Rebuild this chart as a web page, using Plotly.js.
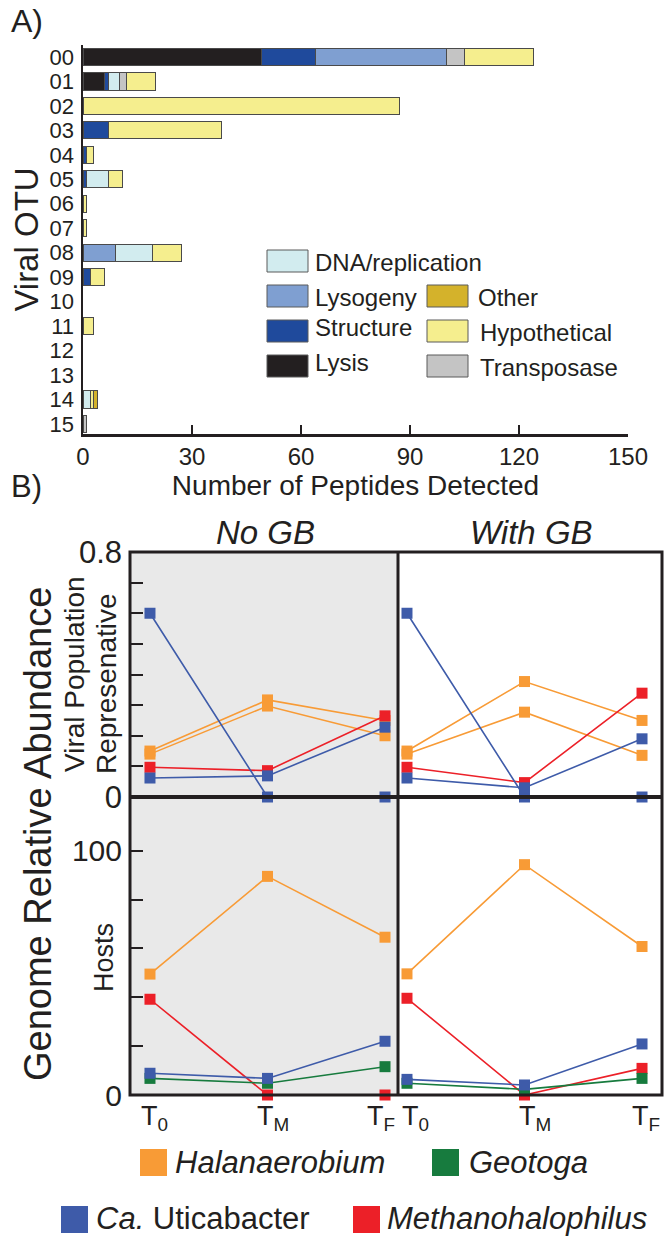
<!DOCTYPE html>
<html><head><meta charset="utf-8">
<script src="https://cdn.plot.ly/plotly-3.0.1.min.js"></script>
<style>html,body{margin:0;padding:0;background:#fff}#chart{width:664px;height:1236px}</style>
</head><body><div id="chart"></div>
<script>
// ---------- Panel A data ----------
const otus = ['00','01','02','03','04','05','06','07','08','09','10','11','12','13','14','15'];
const lysis        = [49,6,0,0,0,0,0,0,0,0,0,0,0,0,0,0];
const structure    = [15,1,0,7,1,1,0,0,0,2,0,0,0,0,0,0];
const lysogeny     = [36,0,0,0,0,0,0,0,9,0,0,0,0,0,0,0];
const dnaReplication = [0,3,0,0,0,6,0,0,10,0,0,0,0,0,2,0];
const transposase  = [5,2,0,0,0,0,0,0,0,0,0,0,0,0,0,1];
const hypothetical = [19,8,87,31,2,4,1,1,8,4,0,3,0,0,1,0];
const other        = [0,0,0,0,0,0,0,0,0,0,0,0,0,0,1,0];
const xTicksA = [0,30,60,90,120,150];

// ---------- Panel B data ----------
const timepoints = [0,1,2];
const timeLabels = ['T<sub>0</sub>','T<sub>M</sub>','T<sub>F</sub>'];
// viral population representatives
const noGB_viral_uti1 = [0.60,0,0];
const noGB_viral_uti2 = [0.062,0.069,0.228];
const noGB_viral_hal1 = [0.15,0.317,0.25];
const noGB_viral_hal2 = [0.14,0.297,0.20];
const noGB_viral_meth = [0.097,0.086,0.265];
const gb_viral_uti1 = [0.60,0,0];
const gb_viral_uti2 = [0.062,0.03,0.19];
const gb_viral_hal1 = [0.15,0.377,0.25];
const gb_viral_hal2 = [0.14,0.277,0.136];
const gb_viral_meth = [0.097,0.047,0.339];
// hosts
const noGB_host_hal  = [49.5,89.5,64.6];
const noGB_host_meth = [39.2,0,0];
const noGB_host_uti  = [8.9,6.8,22];
const noGB_host_geo  = [6.8,4.8,11.6];
const gb_host_hal  = [49.6,94.3,60.8];
const gb_host_meth = [39.6,0,10.9];
const gb_host_uti  = [6.4,4.1,20.9];
const gb_host_geo  = [4.8,2.3,6.8];

const W = 664, H = 1236;
const px = x => x / W, py = y => 1 - y / H;
const FONT = 'Liberation Sans, Arial, Helvetica, sans-serif';
const INK = '#231f20';

const C = {
  lysis:'#231f20', structure:'#1f4a9c', lysogeny:'#7f9fd1', dna:'#d2ecef',
  other:'#d4b22b', hyp:'#f5ee8e', trans:'#c4c4c4',
  hal:'#f89b36', geo:'#177b3e', uti:'#3e5ba9', meth:'#ec2028'
};

const traces = [];
const catSeries = [
  ['Lysis', lysis, C.lysis], ['Structure', structure, C.structure],
  ['Lysogeny', lysogeny, C.lysogeny], ['DNA/replication', dnaReplication, C.dna],
  ['Transposase', transposase, C.trans], ['Hypothetical', hypothetical, C.hyp],
  ['Other', other, C.other]
];
catSeries.forEach(([name, vals, col]) => {
  traces.push({type:'bar', orientation:'h', name, y: otus, x: vals.map(v => v || null),
    xaxis:'x', yaxis:'y', width:0.7, showlegend:false,
    marker:{color:col, line:{color:'#4a4a4a', width:1}}});
});

function line(xa, ya, y, col, name){
  traces.push({type:'scatter', mode:'lines+markers', x: timepoints, y, xaxis:xa, yaxis:ya,
    name, showlegend:false, cliponaxis:false,
    line:{color:col, width:1.6}, marker:{symbol:'square', size:11, color:col}});
}
line('x2','y2',noGB_viral_hal1,C.hal,'Halanaerobium virus 1');
line('x2','y2',noGB_viral_hal2,C.hal,'Halanaerobium virus 2');
line('x2','y2',noGB_viral_meth,C.meth,'Methanohalophilus virus');
line('x2','y2',noGB_viral_uti1,C.uti,'Ca. Uticabacter virus 1');
line('x2','y2',noGB_viral_uti2,C.uti,'Ca. Uticabacter virus 2');
line('x3','y3',gb_viral_hal1,C.hal,'Halanaerobium virus 1');
line('x3','y3',gb_viral_hal2,C.hal,'Halanaerobium virus 2');
line('x3','y3',gb_viral_meth,C.meth,'Methanohalophilus virus');
line('x3','y3',gb_viral_uti1,C.uti,'Ca. Uticabacter virus 1');
line('x3','y3',gb_viral_uti2,C.uti,'Ca. Uticabacter virus 2');
line('x4','y4',noGB_host_hal,C.hal,'Halanaerobium');
line('x4','y4',noGB_host_meth,C.meth,'Methanohalophilus');
line('x4','y4',noGB_host_geo,C.geo,'Geotoga');
line('x4','y4',noGB_host_uti,C.uti,'Ca. Uticabacter');
line('x5','y5',gb_host_hal,C.hal,'Halanaerobium');
line('x5','y5',gb_host_meth,C.meth,'Methanohalophilus');
line('x5','y5',gb_host_geo,C.geo,'Geotoga');
line('x5','y5',gb_host_uti,C.uti,'Ca. Uticabacter');

const shapes = [];
const annotations = [];
function rect(x0,x1,y0,y1,fill,lineCol,lw,layer){
  shapes.push({type:'rect', xref:'paper', yref:'paper', x0:px(x0), x1:px(x1), y0:py(y1), y1:py(y0),
    fillcolor:fill, line:{color:lineCol||'rgba(0,0,0,0)', width:lw||0}, layer:layer||'above'});
}
function seg(x0,y0,x1,y1,lw){
  shapes.push({type:'line', xref:'paper', yref:'paper', x0:px(x0), x1:px(x1), y0:py(y0), y1:py(y1),
    line:{color:INK, width:lw}, layer:'above'});
}
function ann(text,x,y,size,o){
  annotations.push(Object.assign({text, xref:'paper', yref:'paper', x:px(x), y:py(y), showarrow:false,
    xanchor:'left', yanchor:'middle', font:{family:FONT, size, color:INK}}, o||{}));
}

// Panel B frame
rect(130,397,552,1095,'#e9e9e9',null,0,'below');
rect(130,662,552,1095,'rgba(0,0,0,0)',INK,3,'above');
seg(398,552,398,1095,3);
seg(130,797,662,797,4);

// Panel A legend
const legA = [
  ['DNA/replication',C.dna,267,250,313,262],
  ['Lysogeny',C.lysogeny,267,285,313,298],
  ['Structure',C.structure,267,320,313,327],
  ['Lysis',C.lysis,267,355,313,362],
  ['Other',C.other,427,285,476,298],
  ['Hypothetical',C.hyp,427,320,478,332],
  ['Transposase',C.trans,427,355,478,367]
];
legA.forEach(([t,col,bx,by,tx,ty]) => {
  rect(bx,bx+41,by,by+22,col,'#5a5a5a',1);
  ann(t,tx,ty,24);
});

// Panel B legend
const legB = [
  ['<i>Halanaerobium</i>',C.hal,140,1149,173,1162],
  ['<i>Geotoga</i>',C.geo,432,1149,467,1162],
  ['<i>Ca.</i> Uticabacter',C.uti,61,1206,94,1218],
  ['<i>Methanohalophilus</i>',C.meth,353,1206,385,1218]
];
legB.forEach(([t,col,bx,by,tx,ty]) => {
  rect(bx,bx+27,by,by+27,col,null,0);
  ann(t,tx,ty,31);
});

// Time-point labels under the host panels (anchored to the data x positions)
const labelShiftL = [5,5,-4], labelShiftR = [9,10,4];
timepoints.forEach((t,i) => {
  [['x4',labelShiftL[i]],['x5',labelShiftR[i]]].forEach(([xr,sh]) => {
    annotations.push({text:timeLabels[i], xref:xr, yref:'paper', x:t, y:py(1099), xshift:sh,
      showarrow:false, xanchor:'center', yanchor:'top', font:{family:FONT, size:27, color:INK}});
  });
});

// Labels
ann('A)',9,21,32);
ann('B)',9,486,31);
ann('<i>No GB</i>',265,532,33,{xanchor:'center'});
ann('<i>With GB</i>',531,532,33,{xanchor:'center'});
ann('Genome Relative Abundance',38,834,38,{xanchor:'center', textangle:-90});
ann('Viral Population',74,674,28,{xanchor:'center', textangle:-90});
ann('Represenative',106,683,28,{xanchor:'center', textangle:-90});
ann('Hosts',104,958,27,{xanchor:'center', textangle:-90});

const baseAx = {showgrid:false, zeroline:false, showline:false, fixedrange:true};
const fontTick = (s) => ({family:FONT, size:s, color:INK});

const layout = {
  width:W, height:H, margin:{l:0,r:0,t:0,b:0}, paper_bgcolor:'#fff', plot_bgcolor:'rgba(0,0,0,0)',
  barmode:'stack', bargap:0.3, showlegend:false, font:{family:FONT, color:INK},
  xaxis: Object.assign({}, baseAx, {domain:[px(83),px(628)], range:[0,150], anchor:'y',
    showline:true, linecolor:INK, linewidth:2.5, tickvals:xTicksA, ticks:'inside', ticklen:9, tickwidth:2,
    tickcolor:INK, tickfont:fontTick(24), ticklabelstandoff:0,
    title:{text:'Number of Peptides Detected', font:{family:FONT, size:28, color:INK}, standoff:0}}),
  yaxis: Object.assign({}, baseAx, {domain:[py(434),py(45)], type:'category', categoryarray:otus,
    tickmode:'array', tickvals:otus, ticktext:otus,
    range:[15.41,-0.49], anchor:'x', showline:true, linecolor:INK, linewidth:2.5, ticks:'',
    tickfont:fontTick(22), ticklabelstandoff:2,
    title:{text:'Viral OTU', font:{family:FONT, size:33, color:INK}, standoff:1}}),
  xaxis2: Object.assign({}, baseAx, {domain:[px(130),px(397)], range:[-0.17,2.102], anchor:'y2', showticklabels:false}),
  yaxis2: Object.assign({}, baseAx, {domain:[py(797),py(552)], range:[0,0.8], anchor:'x2',
    tickvals:[0,0.1,0.2,0.3,0.4,0.5,0.6,0.7,0.8], ticktext:['0','','','','','','','','0.8'],
    ticks:'inside', ticklen:13, tickwidth:2, tickcolor:INK, tickfont:fontTick(31), ticklabelstandoff:7}),
  xaxis3: Object.assign({}, baseAx, {domain:[px(399),px(662)], range:[-0.068,2.17], anchor:'y3', showticklabels:false}),
  yaxis3: Object.assign({}, baseAx, {domain:[py(797),py(552)], range:[0,0.8], anchor:'x3', showticklabels:false}),
  xaxis4: Object.assign({}, baseAx, {domain:[px(130),px(397)], range:[-0.17,2.102], anchor:'y4', showticklabels:false}),
  yaxis4: Object.assign({}, baseAx, {domain:[py(1095),py(797)], range:[0,122], anchor:'x4',
    tickvals:[0,20,40,60,80,100], ticktext:['0','','','','','100'],
    ticks:'inside', ticklen:13, tickwidth:2, tickcolor:INK, tickfont:fontTick(30), ticklabelstandoff:7}),
  xaxis5: Object.assign({}, baseAx, {domain:[px(399),px(662)], range:[-0.068,2.17], anchor:'y5', showticklabels:false}),
  yaxis5: Object.assign({}, baseAx, {domain:[py(1095),py(797)], range:[0,122], anchor:'x5', showticklabels:false}),
  shapes, annotations
};

Plotly.newPlot('chart', traces, layout, {staticPlot:true, displayModeBar:false});
</script>
</body></html>
